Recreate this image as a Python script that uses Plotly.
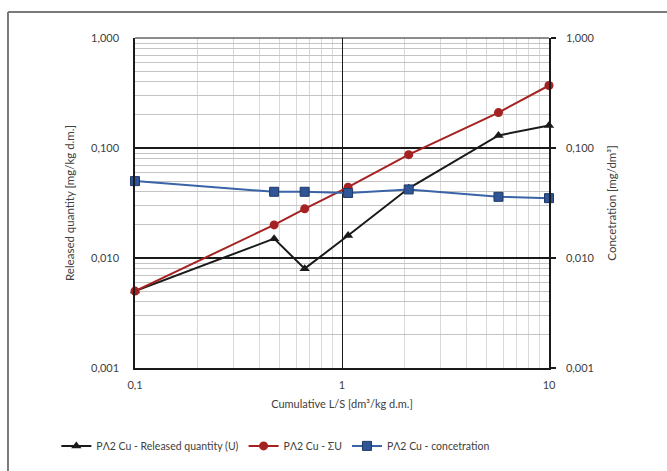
import plotly.graph_objects as go

# Data
ls_values = [0.1, 0.47, 0.66, 1.07, 2.1, 5.7, 10]
released_u = [0.005, 0.015, 0.008, 0.016, 0.043, 0.13, 0.16]
cumulative_u = [0.005, 0.020, 0.028, 0.044, 0.087, 0.21, 0.37]
concentration = [0.050, 0.040, 0.040, 0.039, 0.042, 0.036, 0.035]

y_tickvals = [0.001, 0.01, 0.1, 1]
y_ticktext = ["0,001", "0,010", "0,100", "1,000"]
x_tickvals = [0.1, 1, 10]
x_ticktext = ["0,1", "1", "10"]

names = ["P\u039b2 Cu - Released quantity (U)", "P\u039b2 Cu - \u03a3U", "P\u039b2 Cu - concetration"]

FONT = "Lato"
TXT = "#404040"

fig = go.Figure()
fig.add_trace(go.Scatter(
    x=ls_values, y=released_u, name=names[0], mode="lines+markers",
    line=dict(color="#1a1a1a", width=2),
    marker=dict(symbol="triangle-up", size=9, color="#1a1a1a"),
    cliponaxis=False))
fig.add_trace(go.Scatter(
    x=ls_values, y=cumulative_u, name=names[1], mode="lines+markers",
    line=dict(color="#A52222", width=2),
    marker=dict(symbol="circle", size=9, color="#A52222"),
    cliponaxis=False))
fig.add_trace(go.Scatter(
    x=ls_values, y=concentration, name=names[2], mode="lines+markers", yaxis="y2",
    line=dict(color="#3A63A8", width=2),
    marker=dict(symbol="square", size=9, color="#2F5597", line=dict(color="#1F3864", width=1)),
    cliponaxis=False))

yrange = [-3, 0]
fig.update_layout(
    template="none",
    width=667, height=471,
    margin=dict(l=135, r=118, t=38, b=103, autoexpand=False),
    paper_bgcolor="white", plot_bgcolor="white",
    font=dict(family=FONT, size=11, color=TXT),
    xaxis=dict(
        type="log", range=[-1, 1], automargin=False,
        tickvals=x_tickvals, ticktext=x_ticktext,
        showline=True, linecolor="#1a1a1a", linewidth=2,
        showgrid=True, gridcolor="#1a1a1a", gridwidth=1.3,
        ticks="", ticklabelstandoff=6,
        minor=dict(showgrid=True, gridcolor="#d9d9d9", gridwidth=1, tickvals=[
            0.2, 0.3, 0.4, 0.5, 0.6, 0.7, 0.8, 0.9, 2, 3, 4, 5, 6, 7, 8, 9]),
        zeroline=False,
        title=dict(text="Cumulative L/S [dm\u00b3/kg d.m.]", font=dict(size=11, color=TXT), standoff=10),
    ),
    yaxis=dict(
        type="log", range=yrange, automargin=False,
        tickvals=y_tickvals, ticktext=y_ticktext,
        showline=True, linecolor="#1a1a1a", linewidth=1.5,
        showgrid=True, gridcolor="#1a1a1a", gridwidth=2,
        ticks="", ticklabelstandoff=12,
        minor=dict(showgrid=True, gridcolor="#c4c4c4", gridwidth=1, tickvals=[
            0.002, 0.003, 0.004, 0.005, 0.006, 0.007, 0.008, 0.009,
            0.02, 0.03, 0.04, 0.05, 0.06, 0.07, 0.08, 0.09,
            0.2, 0.3, 0.4, 0.5, 0.6, 0.7, 0.8, 0.9]),
        zeroline=False,
        title=dict(text="Released quantity [mg/kg d.m.]", font=dict(size=11.5, color=TXT), standoff=14),
    ),
    yaxis2=dict(
        type="log", range=yrange, overlaying="y", side="right", automargin=False,
        tickvals=y_tickvals, ticktext=y_ticktext,
        showline=True, linecolor="#1a1a1a", linewidth=1.5,
        showgrid=False, ticks="outside", ticklen=5, tickcolor="#1a1a1a", tickwidth=1.5,
        ticklabelstandoff=8,
        zeroline=False,
        title=dict(text="Concetration [mg/dm\u00b3]", font=dict(size=11.5, color=TXT), standoff=14),
    ),
    legend=dict(
        orientation="h", x=-0.19, xanchor="left",
        y=-0.236, yanchor="middle",
        font=dict(size=10.5, color=TXT), tracegroupgap=0,
        bgcolor="rgba(0,0,0,0)",
    ),
    showlegend=True,
    shapes=[
        dict(type="line", xref="paper", yref="paper", x0=0, x1=1, y0=1, y1=1,
             line=dict(color="#1a1a1a", width=1)),
        dict(type="line", xref="paper", yref="paper", x0=-0.3068, x1=1.5, y0=1.0788, y1=1.0788,
             line=dict(color="#7a7a7a", width=2)),
        dict(type="line", xref="paper", yref="paper", x0=-0.3068, x1=-0.3068, y0=1.0788, y1=-0.5,
             line=dict(color="#7a7a7a", width=2)),
    ],
)

fig.write_html("out.html", config={"displayModeBar": False},
               post_script="document.body.style.margin='0px';")
